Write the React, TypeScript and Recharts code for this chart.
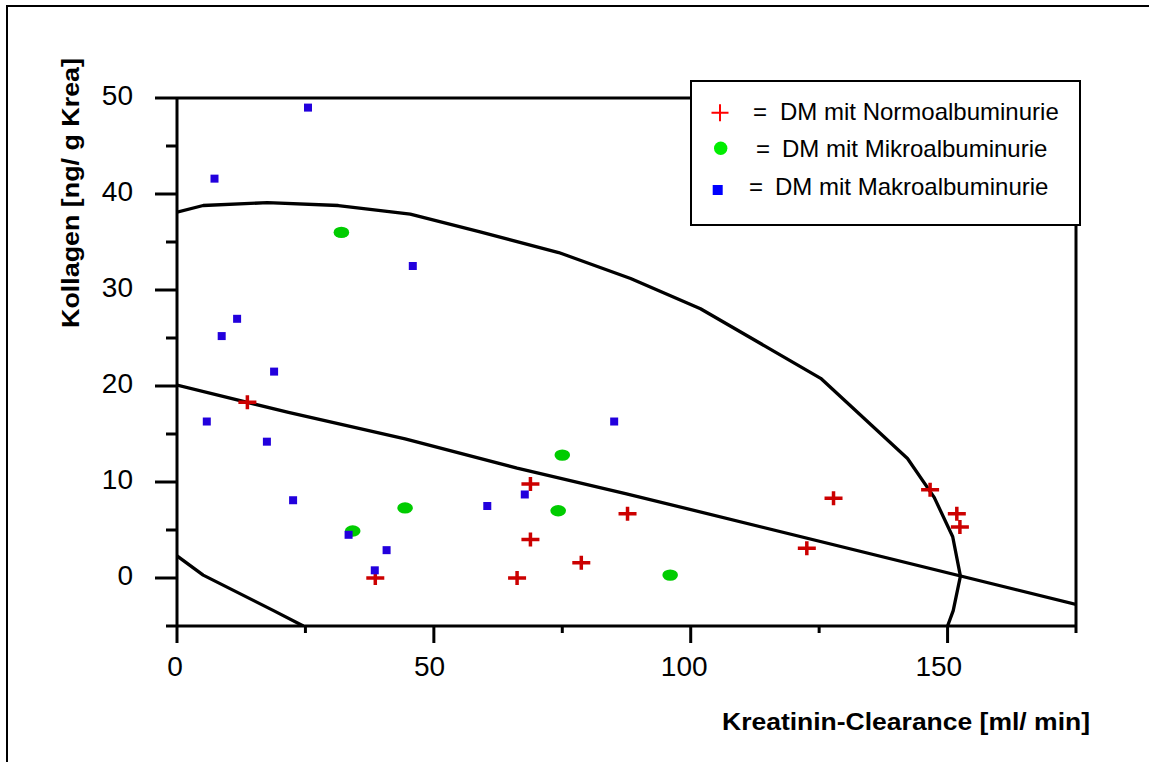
import { ScatterChart, Scatter, XAxis, YAxis, ReferenceLine, Legend } from 'recharts';

const X_TICKS = [0, 25, 50, 75, 100, 125, 150, 175];
const Y_TICKS = [-5, 0, 5, 10, 15, 20, 25, 30, 35, 40, 45, 50];

// DM mit Normoalbuminurie (red +)
const NORMO: [number, number][] = [
  [13.7, 18.3], [38.6, 0], [66.2, 0], [68.8, 4.0], [68.8, 9.8], [78.7, 1.6],
  [87.7, 6.7], [122.6, 3.1], [127.8, 8.3], [146.6, 9.2], [151.8, 6.7], [152.4, 5.3],
];

// DM mit Mikroalbuminurie (green dots)
const MIKRO: [number, number][] = [
  [32.0, 36.0], [34.2, 4.9], [44.4, 7.3], [75.0, 12.8], [74.2, 7.0], [96.0, 0.3],
];

// DM mit Makroalbuminurie (blue squares)
const MAKRO: [number, number][] = [
  [25.5, 49.0], [7.3, 41.6], [45.9, 32.5], [11.7, 27.0], [8.7, 25.2], [18.9, 21.5],
  [5.8, 16.3], [17.5, 14.2], [22.6, 8.1], [60.4, 7.5], [67.7, 8.7], [33.4, 4.5],
  [40.8, 2.9], [38.5, 0.8], [85.1, 16.3],
];

// hand drawn boundary curves
const OUTER_CURVE: [number, number][] = [
  [0, 38.1], [5.1, 38.8], [17.6, 39.1], [31.4, 38.8], [45.4, 37.9], [59, 36.05],
  [74.3, 33.9], [88.3, 31.2], [101.9, 28.05], [125.3, 20.8], [142.2, 12.45],
  [147.4, 8.4], [151, 4.3], [152.5, 0.2], [151.1, -3.4], [150, -5],
];
const MID_LINE: [number, number][] = [
  [0, 20.1], [21.7, 17.25], [44.4, 14.5], [66.2, 11.45], [87.3, 8.8], [175, -2.75],
];
const LOWER_CURVE: [number, number][] = [
  [0, 2.3], [5.1, 0.3], [18.8, -3.4], [24.6, -5],
];

const toPts = (arr: [number, number][]) => arr.map(([x, y]) => ({ x, y }));

const FONT = '"Liberation Sans", Arial, Helvetica, sans-serif';
const CURVE_LINE = { stroke: '#000', strokeWidth: 3.3, strokeLinejoin: 'round' as const };

function XTick(props: any) {
  const { x, y, payload } = props;
  const v = payload.value;
  const major = v % 50 === 0;
  return (
    <g>
      <line x1={x} x2={x} y1={y} y2={y + (major ? 17 : 7)} stroke="#000" strokeWidth={3} />
      {major && (
        <text x={x - 2 - v * 0.045} y={y + 50} textAnchor="middle" fontSize={28} fill="#000" fontFamily={FONT}>
          {v}
        </text>
      )}
    </g>
  );
}

function YTick(props: any) {
  const { x, y, payload } = props;
  const v = payload.value;
  const major = v % 10 === 0;
  return (
    <g>
      <line x1={x - (major ? 22 : 11)} x2={x} y1={y} y2={y} stroke="#000" strokeWidth={3} />
      {major && (
        <text x={x - 44} y={y + 7} textAnchor="end" fontSize={28} fill="#000" fontFamily={FONT}>
          {v}
        </text>
      )}
    </g>
  );
}

function XTitle() {
  return (
    <text x={722} y={730} fontSize={24} fontWeight="bold" fill="#000" fontFamily={FONT}
      textLength={368} lengthAdjust="spacingAndGlyphs">
      Kreatinin-Clearance [ml/ min]
    </text>
  );
}

function YTitle() {
  return (
    <text x={79} y={328} transform="rotate(-90 79 328)" fontSize={24} fontWeight="bold" fill="#000"
      fontFamily={FONT} textLength={270} lengthAdjust="spacingAndGlyphs">
      Kollagen [ng/ g Krea]
    </text>
  );
}

const Plus = (props: any) => {
  const { cx, cy } = props;
  return (
    <path d={`M${cx - 9},${cy}H${cx + 9}M${cx},${cy - 7}V${cy + 7}`} stroke="#cc0000" strokeWidth={3.5} fill="none" />
  );
};
const Dot = (props: any) => <ellipse cx={props.cx} cy={props.cy} rx={7.8} ry={5.7} fill="#00cc00" />;
const Square = (props: any) => <rect x={props.cx - 4} y={props.cy - 4} width={8} height={8} fill="#2200dd" />;
const NoShape = () => <g />;

function LegendBox() {
  return (
    <svg width={392} height={147} style={{ display: 'block' }} fontFamily={FONT}>
      <rect x={1} y={1} width={389} height={144} fill="#fff" stroke="#000" strokeWidth={2} />
      <path d="M21.5,32.7H38.5M30,24.2V41.2" stroke="#ff0000" strokeWidth={2} />
      <circle cx={30.7} cy={68.3} r={6.7} fill="#00ee00" />
      <rect x={22.7} y={105} width={10} height={10} fill="#0000ff" />
      <text x={63} y={40} fontSize={24}>=</text>
      <text x={90} y={40} fontSize={24}>DM mit Normoalbuminurie</text>
      <text x={66} y={77} fontSize={24}>=</text>
      <text x={92} y={77} fontSize={24}>DM mit Mikroalbuminurie</text>
      <text x={59} y={115} fontSize={24}>=</text>
      <text x={85} y={115} fontSize={24}>DM mit Makroalbuminurie</text>
    </svg>
  );
}

export default function App() {
  return (
    <div style={{ position: 'absolute', left: 0, top: 0, width: 1149, height: 762, background: '#fff', fontFamily: FONT }}>
      <div style={{ position: 'absolute', left: 6, top: 5, width: 1143, height: 2, background: '#000' }} />
      <div style={{ position: 'absolute', left: 6, top: 5, width: 2, height: 757, background: '#000' }} />
      <div style={{ position: 'absolute', left: 0, top: 0 }}>
        <ScatterChart width={1149} height={762} margin={{ top: 98, right: 73, bottom: 6, left: 7 }}>
          <XAxis
            type="number"
            dataKey="x"
            domain={[0, 175]}
            ticks={X_TICKS}
            interval={0}
            allowDataOverflow
            height={130}
            tickLine={false}
            tickSize={0}
            tickMargin={0}
            tick={<XTick />}
            axisLine={{ stroke: '#000', strokeWidth: 3 }}
            label={<XTitle />}
          />
          <YAxis
            type="number"
            dataKey="y"
            domain={[-5, 50]}
            ticks={Y_TICKS}
            interval={0}
            allowDataOverflow
            width={170}
            tickLine={false}
            tickSize={0}
            tickMargin={0}
            tick={<YTick />}
            axisLine={{ stroke: '#000', strokeWidth: 3 }}
            label={<YTitle />}
          />
          <ReferenceLine y={50} stroke="#000" strokeWidth={3} />
          <ReferenceLine x={175} stroke="#000" strokeWidth={3} />
          <Scatter data={toPts(OUTER_CURVE)} line={CURVE_LINE} lineType="joint" shape={NoShape} isAnimationActive={false} legendType="none" />
          <Scatter data={toPts(MID_LINE)} line={CURVE_LINE} lineType="joint" shape={NoShape} isAnimationActive={false} legendType="none" />
          <Scatter data={toPts(LOWER_CURVE)} line={CURVE_LINE} lineType="joint" shape={NoShape} isAnimationActive={false} legendType="none" />
          <Scatter name="DM mit Normoalbuminurie" data={toPts(NORMO)} shape={Plus} isAnimationActive={false} />
          <Scatter name="DM mit Mikroalbuminurie" data={toPts(MIKRO)} shape={Dot} isAnimationActive={false} />
          <Scatter name="DM mit Makroalbuminurie" data={toPts(MAKRO)} shape={Square} isAnimationActive={false} />
          <Legend
            layout="vertical"
            align="center"
            verticalAlign="middle"
            content={<LegendBox />}
            wrapperStyle={{ left: 690, top: 80, width: 392, height: 147, margin: 0, padding: 0 }}
          />
        </ScatterChart>
      </div>
    </div>
  );
}
